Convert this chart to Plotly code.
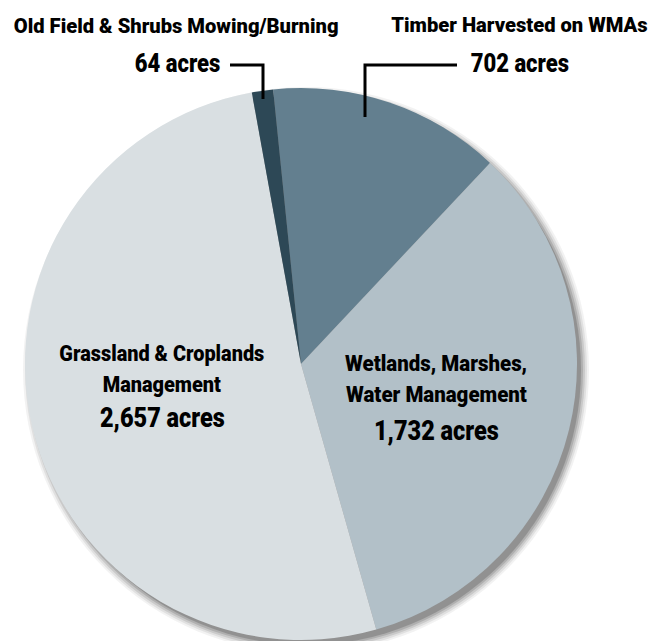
import json
import plotly.graph_objects as go

labels = ["Timber Harvested on WMAs", "Wetlands, Marshes, Water Management",
          "Grassland & Croplands Management", "Old Field & Shrubs Mowing/Burning"]
values = [702, 1732, 2657, 64]
colors = ["#637f8f", "#b2c0c8", "#d9dfe2", "#2d4856"]

W, H = 663, 641
cx, cy, r = 301, 364, 276

def px(x):
    return x / W

def py(y):
    return 1 - y / H

rot = -5.8

fig = go.Figure()
fig.add_trace(go.Pie(
    labels=labels, values=values, sort=False, direction="clockwise",
    rotation=rot, marker=dict(colors=colors, line=dict(width=0)),
    textinfo="none", hoverinfo="label+value", showlegend=False,
    domain=dict(x=[px(cx - r), px(cx + r)], y=[py(cy + r), py(cy - r)]),
))

# soft drop shadow
shapes = []
for grow, op in [(7, 0.05), (5, 0.07), (3, 0.10), (1, 0.13), (-1, 0.17)]:
    ox, oy = 5, 6
    shapes.append(dict(type="circle", xref="paper", yref="paper", layer="below",
                       x0=px(cx - r - grow + ox), x1=px(cx + r + grow + ox),
                       y0=py(cy + r + grow + oy), y1=py(cy - r - grow + oy),
                       fillcolor=f"rgba(0,0,0,{op})", line=dict(width=0)))

# leader lines
lw = 3
shapes.append(dict(type="path", xref="paper", yref="paper",
                   path=f"M {px(230)},{py(65)} L {px(263)},{py(65)} L {px(263)},{py(99)}",
                   line=dict(color="black", width=lw)))
shapes.append(dict(type="path", xref="paper", yref="paper",
                   path=f"M {px(457)},{py(65)} L {px(365)},{py(65)} L {px(365)},{py(117)}",
                   line=dict(color="black", width=lw)))

FONT = "Roboto, Lato, sans-serif"

def fmt(v):
    return f"{v:,} acres"

ann = []
scales = []
def add(text, x, y, size, sx):
    ann.append(dict(text=text, x=px(x), y=py(y), xref="paper", yref="paper",
                    showarrow=False, xanchor="center", yanchor="middle",
                    font=dict(family=FONT, size=size, color="black", weight=900)))
    scales.append(sx)

add(labels[3], 176, 26, 21, 0.96)
add(fmt(values[3]), 177, 63, 25, 0.88)
add(labels[0], 519, 25, 21, 0.96)
add(fmt(values[0]), 520, 63, 25, 0.88)
add("Grassland & Croplands", 162, 353, 22.5, 0.885)
add("Management", 162, 384, 22.5, 0.885)
add(fmt(values[2]), 162, 417, 28, 0.84)
add("Wetlands, Marshes,", 436, 363, 22.5, 0.91)
add("Water Management", 436, 394, 22.5, 0.91)
add(fmt(values[1]), 436, 430, 28, 0.84)

fig.update_layout(width=W, height=H, margin=dict(l=0, r=0, t=0, b=0),
                  paper_bgcolor="white", plot_bgcolor="white",
                  shapes=shapes, annotations=ann)

post = """
document.body.style.margin = '0';
var sc = %s;
document.querySelectorAll('g.annotation').forEach(function(g){
  var i = parseInt(g.getAttribute('data-index'));
  var t = g.querySelector('.annotation-text');
  if (!t || isNaN(i)) return;
  t.style.transformBox = 'fill-box';
  t.style.transformOrigin = 'center';
  t.style.transform = 'scaleX(' + sc[i] + ')';
});
""" % json.dumps(scales)
fig.write_html("out.html", post_script=post, config={"displayModeBar": False})
